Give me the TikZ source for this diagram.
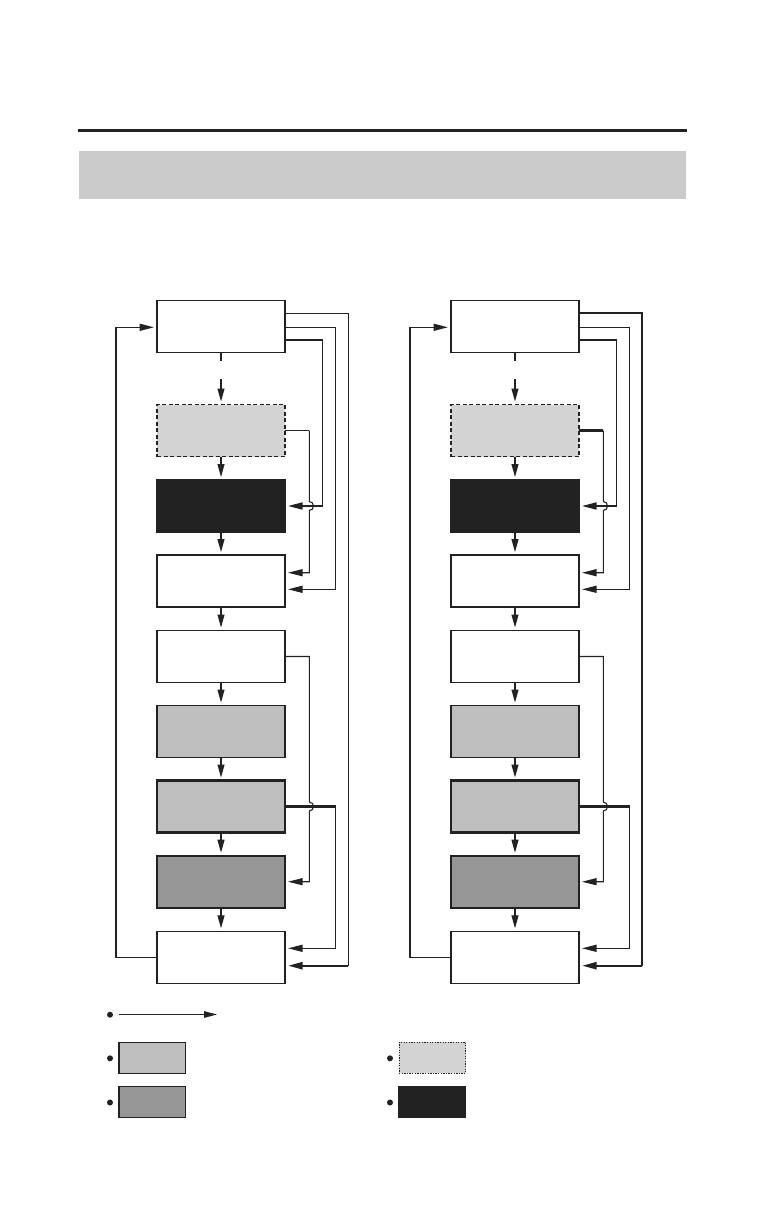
\documentclass[tikz,border=0pt]{standalone}
\usetikzlibrary{arrows.meta,calc}
\definecolor{ink}{HTML}{222222}
\definecolor{bandgray}{HTML}{CBCBCB}
\definecolor{lightfill}{HTML}{D3D3D3}
\definecolor{midfill}{HTML}{BEBEBE}
\definecolor{darkfill}{HTML}{969696}
\begin{document}
\begin{tikzpicture}[x=1pt,y=-1pt,
  thinln/.style={draw=ink,line width=1.1pt},
  medln/.style={draw=ink,line width=1.6pt},
  thickln/.style={draw=ink,line width=2.3pt},
  arr/.style={-{Triangle[length=14.5pt,width=7pt]},shorten >=3pt},
  varr/.style={-{Triangle[length=13pt,width=7pt]},shorten >=3pt},
  box/.style={draw=ink,line width=1.4pt,minimum width=128pt,minimum height=52pt,inner sep=0pt,outer sep=0pt},
  whitebox/.style={box,fill=white},
  dashbox/.style={box,fill=lightfill,line width=1.2pt,dash pattern=on 4pt off 2.5pt},
  blackbox/.style={box,fill=ink,draw=ink},
  graybox/.style={box,fill=midfill},
  graybold/.style={box,fill=midfill,line width=2.2pt},
  darkbox/.style={box,fill=darkfill,line width=2.2pt},
  legbox/.style={draw=ink,line width=1.2pt,minimum width=66.7pt,minimum height=31pt,inner sep=0pt,outer sep=0pt},
  dot/.style={circle,fill=ink,inner sep=0pt,minimum size=6pt}
]
\useasboundingbox (0,0) rectangle (765,1225);
\fill[white] (0,0) rectangle (765,1225);

% header rule and band
\draw[ink,line width=3pt] (78,130.7) -- (686.7,130.7);
\fill[bandgray] (79,151) rectangle (686,199);

\foreach \p/\dx/\wo/\wt in {L/0/thinln/thinln, R/294/thickln/thickln}{
  % boxes
  \node[whitebox] (\p1) at ({221+\dx},326.7) {};
  \node[dashbox]  (\p2) at ({221+\dx},430.5) {};
  \node[blackbox] (\p3) at ({221+\dx},506) {};
  \node[whitebox] (\p4) at ({221+\dx},581) {};
  \node[whitebox] (\p5) at ({221+\dx},656.5) {};
  \node[graybox]  (\p6) at ({221+\dx},731.5) {};
  \node[graybold] (\p7) at ({221+\dx},806.5) {};
  \node[darkbox]  (\p8) at ({221+\dx},881.7) {};
  \node[whitebox] (\p9) at ({221+\dx},957.3) {};

  % vertical flow
  \coordinate (\p s1) at ({221+\dx},361);
  \coordinate (\p s2) at ({221+\dx},379);
  \draw[thinln] (\p1.south) -- (\p s1);
  \draw[thinln,varr] (\p s2) -- (\p2.north);
  \draw[thinln,varr] (\p2.south) -- (\p3.north);
  \draw[thinln,varr] (\p3.south) -- (\p4.north);
  \draw[thinln,varr] (\p4.south) -- (\p5.north);
  \draw[thinln,varr] (\p5.south) -- (\p6.north);
  \draw[thinln,varr] (\p6.south) -- (\p7.north);
  \draw[thinln,varr] (\p7.south) -- (\p8.north);
  \draw[thinln,varr] (\p8.south) -- (\p9.north);

  % outer line: box1 -> box9
  \coordinate (\p a1) at ({348.3+\dx},313.3);
  \coordinate (\p a2) at ({348.3+\dx},965.7);
  \draw[\wo] ($(\p1.east)+(0,-13.4)$) -- (\p a1) -- (\p a2);
  \draw[thickln,arr] (\p a2) -- ($(\p9.east)+(0,8.4)$);

  % box1 -> box4
  \coordinate (\p b1) at ({335.7+\dx},327.3);
  \draw[thinln,arr] ($(\p1.east)+(0,0.6)$) -- (\p b1) |- ($(\p4.east)+(0,8.3)$);

  % box1 -> box3
  \coordinate (\p c1) at ({322.3+\dx},340);
  \draw[medln,arr] ($(\p1.east)+(0,13.3)$) -- (\p c1) |- (\p3.east);

  % box2 -> box4 with hop
  \coordinate (\p d1) at ({309.3+\dx},430.5);
  \coordinate (\p d2) at ({309.3+\dx},501.5);
  \coordinate (\p d3) at ({309.3+\dx},510.5);
  \draw[\wt] (\p2.east) -- (\p d1);
  \draw[thinln,arr] (\p d1) -- (\p d2) .. controls +(5.5,0) and +(5.5,0) .. (\p d3) |- ($(\p4.east)+(0,-8.3)$);

  % box5 -> box8 with hop
  \coordinate (\p e1) at ({309.3+\dx},656.5);
  \coordinate (\p e2) at ({309.3+\dx},802);
  \coordinate (\p e3) at ({309.3+\dx},811);
  \draw[thinln,arr] (\p5.east) -- (\p e1) -- (\p e2) .. controls +(5.5,0) and +(5.5,0) .. (\p e3) |- (\p8.east);

  % box7 -> box9
  \coordinate (\p f1) at ({335.7+\dx},806.5);
  \draw[thickln] (\p7.east) -- (\p f1);
  \draw[thinln,arr] (\p f1) |- ($(\p9.east)+(0,-9)$);

  % return box9 -> box1
  \coordinate (\p r1) at ({116+\dx},957.3);
  \coordinate (\p r2) at ({116+\dx},327.3);
  \draw[medln,arr] (\p9.west) -- (\p r1) -- (\p r2) -- ($(\p1.west)+(0,0.6)$);
}

% legend
\node[dot] (d0) at (110,1014.7) {};
\coordinate (la) at (119,1014.5);
\coordinate (lb) at (217,1014.5);
\draw[thinln,-{Triangle[length=13pt,width=6.5pt]}] (la) -- (lb);

\node[dot] (d1) at (110,1058.3) {};
\node[legbox,fill=midfill] (lg1) at (152.4,1057.8) {};
\node[dot] (d2) at (110,1102.5) {};
\node[legbox,fill=darkfill] (lg2) at (152.4,1101.8) {};

\node[dot] (d3) at (390,1058.3) {};
\node[legbox,fill=lightfill,line width=1pt,dash pattern=on 1.3pt off 1.3pt] (lg3) at (432.4,1057.8) {};
\node[dot] (d4) at (390,1102.5) {};
\node[legbox,fill=ink] (lg4) at (432.4,1101.8) {};
\end{tikzpicture}
\end{document}
